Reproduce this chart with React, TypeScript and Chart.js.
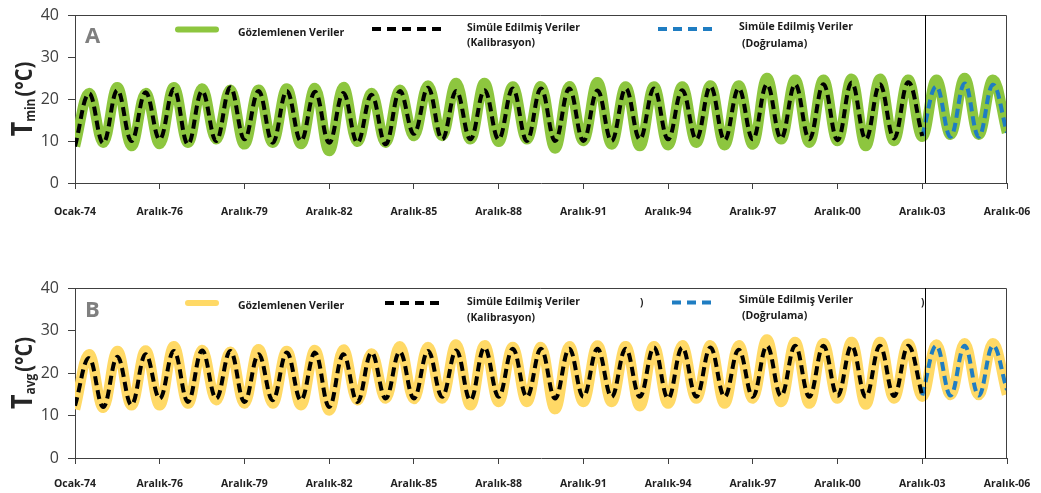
import React, { useEffect, useRef } from "react";
import { Chart, registerables } from "chart.js";

Chart.register(...registerables);

// ---------- DATA ----------
const tickLabels = [
  "Ocak-74", "Aralık-76", "Aralık-79", "Aralık-82", "Aralık-85", "Aralık-88",
  "Aralık-91", "Aralık-94", "Aralık-97", "Aralık-00", "Aralık-03", "Aralık-06",
];
const monthsPerTick = 36;
const totalMonths = 396;
const calibEndYear = 30; // index of the yearly trough where validation starts
const splitMonth = 361; // calibration / validation boundary

// Panel A: Tmin — yearly troughs (winter) and peaks (summer)
const tminObsTroughs = [8.8, 9.6, 8.8, 9.3, 9.6, 10.4, 9.2, 9.6, 9.3, 7.6, 9.8, 9.6,
  11.2, 11.2, 10.4, 9.8, 10.4, 8.2, 10.0, 9.2, 8.8, 9.0, 9.6, 9.0,
  9.2, 10.4, 9.6, 10.0, 8.8, 10.0, 11.0, 11.5, 11.5, 12.0];
const tminObsPeaks = [21.4, 22.8, 21.4, 22.8, 22.5, 22.2, 22.2, 22.5, 22.6, 22.8, 21.4,
  22.2, 23.2, 23.8, 23.8, 23.0, 23.0, 23.0, 24.0, 23.0, 23.0, 23.0,
  23.2, 23.2, 25.0, 24.6, 24.6, 24.8, 24.8, 24.6, 24.6, 25.0, 24.6];
const tminSimTroughs = [8.7, 9.5, 10.0, 10.4, 9.2, 10.0, 10.4, 9.6, 10.0, 9.6, 9.6, 9.2,
  11.7, 10.4, 10.4, 10.4, 10.0, 10.0, 10.0, 10.0, 10.4, 10.4, 10.4, 10.2,
  10.4, 10.6, 10.4, 10.2, 10.4, 10.6, 11.2, 11.0, 11.0, 12.0];
const tminSimPeaks = [21.3, 22.1, 21.6, 22.4, 21.9, 22.8, 21.9, 21.9, 21.7, 21.4, 21.0,
  21.9, 22.7, 21.9, 22.1, 22.5, 22.5, 22.5, 22.0, 22.5, 22.5, 22.1,
  23.0, 22.5, 23.5, 23.5, 23.5, 23.9, 23.5, 24.0, 23.0, 23.7, 23.4];

// Panel B: Tavg
const tavgObsTroughs = [11.5, 11.8, 12.4, 12.4, 12.8, 13.6, 12.8, 12.8, 12.4, 11.2, 13.6, 14.0,
  13.9, 14.0, 12.4, 13.2, 13.2, 11.5, 13.2, 13.2, 12.2, 12.8, 14.0, 12.8,
  14.0, 13.2, 12.8, 14.0, 12.6, 14.0, 14.4, 14.8, 14.8, 15.0];
const tavgObsPeaks = [24.4, 25.2, 25.3, 26.3, 25.4, 25.0, 25.6, 25.2, 25.4, 25.5, 24.6,
  26.3, 26.1, 26.7, 26.5, 26.1, 26.1, 26.3, 26.5, 26.3, 26.3, 26.5,
  26.5, 26.5, 27.9, 27.3, 27.0, 27.3, 27.3, 26.9, 26.7, 27.0, 27.0];
const tavgSimTroughs = [12.3, 12.0, 12.5, 14.0, 13.2, 14.0, 13.2, 13.6, 13.6, 12.0, 13.2, 14.0,
  14.0, 14.4, 13.6, 14.4, 14.4, 14.0, 14.4, 14.4, 14.4, 14.0, 14.4, 14.4,
  14.4, 14.6, 14.4, 14.6, 14.4, 14.6, 14.7, 14.7, 14.7, 16.0];
const tavgSimPeaks = [23.5, 23.8, 24.4, 25.2, 25.3, 25.2, 24.4, 24.8, 24.8, 24.4, 24.8,
  25.0, 25.2, 25.3, 26.0, 25.7, 25.7, 25.7, 25.7, 25.7, 26.0, 26.0,
  26.0, 25.5, 26.4, 26.4, 26.4, 26.4, 26.4, 26.4, 26.4, 26.4, 26.4];

const legendObs = "Gözlemlenen Veriler";
const legendSim = "Simüle Edilmiş Veriler";
const legendCal = "(Kalibrasyon)";
const legendVal = "(Doğrulama)";

// ---------- STYLE ----------
const FONT = '"Open Sans", "DejaVu Sans", sans-serif';
const AXIS = "#404040";
const BLUE = "#1f7dc2";
const GREEN = "#8dc63f";
const YELLOW = "#ffd966";

function wave(troughs: number[], peaks: number[], from: number, to: number) {
  const pts: { x: number; y: number }[] = [];
  for (let k = from; k <= to; k++) {
    pts.push({ x: k * 12, y: troughs[k] });
    if (k < to && k < peaks.length) pts.push({ x: k * 12 + 6, y: peaks[k] });
  }
  return pts;
}

type Panel = {
  letter: string;
  sub: string;
  obsColor: string;
  obsT: number[]; obsP: number[]; simT: number[]; simP: number[];
  height: number; top: number; xAxisH: number; xPad: number;
  L: any;
};

function drawText(ctx: CanvasRenderingContext2D, s: string, x: number, y: number, font: string, color: string, maxW?: number) {
  ctx.font = font;
  ctx.fillStyle = color;
  ctx.textAlign = "left";
  ctx.textBaseline = "middle";
  if (maxW) ctx.fillText(s, x, y, maxW);
  else ctx.fillText(s, x, y);
}

function drawLegendLine(ctx: CanvasRenderingContext2D, x1: number, x2: number, y: number, color: string, w: number, dash: number[]) {
  ctx.save();
  ctx.strokeStyle = color;
  ctx.lineWidth = w;
  ctx.setLineDash(dash);
  ctx.lineCap = dash.length ? "butt" : "round";
  ctx.beginPath();
  ctx.moveTo(x1, y);
  ctx.lineTo(x2, y);
  ctx.stroke();
  ctx.restore();
}

const decor = (p: Panel) => ({
  id: "decor" + p.letter,
  afterDraw(chart: any) {
    const { ctx, chartArea: a } = chart;
    const xs = chart.scales.x;
    const L = p.L;
    ctx.save();
    // frame (top + right)
    ctx.lineWidth = 1;
    ctx.strokeStyle = AXIS;
    ctx.beginPath();
    ctx.moveTo(a.left, a.top + 0.5);
    ctx.lineTo(a.right - 0.5, a.top + 0.5);
    ctx.lineTo(a.right - 0.5, a.bottom);
    ctx.stroke();
    // calibration / validation separator
    const sx = Math.round(xs.getPixelForValue(splitMonth)) + 0.5;
    ctx.strokeStyle = "#000";
    ctx.beginPath();
    ctx.moveTo(sx, a.top);
    ctx.lineTo(sx, a.bottom);
    ctx.stroke();

    // panel letter
    ctx.font = `bold 22px ${FONT}`;
    ctx.fillStyle = "#7f7f7f";
    ctx.textBaseline = "alphabetic";
    ctx.textAlign = "left";
    ctx.fillText(p.letter, 85, L.letterY);

    // legend
    const lf = `bold 10.5px ${FONT}`;
    const tc = "#1a1a1a";
    drawLegendLine(ctx, L.obs[0], L.obs[1], L.obs[2], p.obsColor, 6, []);
    drawText(ctx, legendObs, 238, L.obsTextY, lf, tc, 107);
    drawLegendLine(ctx, L.sim[0], L.sim[1], L.sim[2], "#000", 4, [9, 6]);
    drawText(ctx, legendSim, 467, L.simTextY[0], lf, tc, 113);
    drawText(ctx, legendCal, 467, L.simTextY[1], lf, tc, 68);
    drawLegendLine(ctx, L.val[0], L.val[1], L.val[2], BLUE, 4, [9, 6]);
    drawText(ctx, legendSim, 739, L.valTextY[0], lf, tc, 114);
    drawText(ctx, legendVal, 742, L.valTextY[1], lf, tc, 66);
    for (const b of L.brackets) drawText(ctx, ")", b[0], b[1], `bold 10px ${FONT}`, tc);

    // y-axis title, rotated, with subscript
    const cy = (a.top + a.bottom) / 2;
    ctx.translate(32, cy);
    ctx.rotate(-Math.PI / 2);
    ctx.scale(1, 1.15);
    ctx.textBaseline = "alphabetic";
    ctx.fillStyle = "#262626";
    const fT = `bold 25px ${FONT}`;
    const fS = `bold 12px ${FONT}`;
    const fU = `bold 20px ${FONT}`;
    ctx.font = fT; const wT = ctx.measureText("T").width;
    ctx.font = fS; const wS = ctx.measureText(p.sub).width;
    ctx.font = fU; const wU = ctx.measureText("(°C)").width;
    const gap = 2;
    const total = wT + wS + gap + wU;
    let x0 = -total / 2;
    ctx.font = fT; ctx.fillText("T", x0, 0); x0 += wT;
    ctx.font = fS; ctx.fillText(p.sub, x0, 3); x0 += wS + gap;
    ctx.font = fU; ctx.fillText("(°C)", x0, 0);
    ctx.restore();
  },
});

function makeChart(canvas: HTMLCanvasElement, p: Panel) {
  const last = p.obsT.length - 1;
  return new Chart(canvas, {
    type: "line",
    data: {
      datasets: [
        {
          data: wave(p.simT, p.simP, 0, calibEndYear),
          borderColor: "#000", borderWidth: 4, borderDash: [9, 5], order: 1,
        },
        {
          data: wave(p.simT, p.simP, calibEndYear, p.simT.length - 1),
          borderColor: BLUE, borderWidth: 4, borderDash: [9, 5], order: 1,
        },
        {
          data: wave(p.obsT, p.obsP, 0, last),
          borderColor: p.obsColor, borderWidth: 10.5, order: 2,
        },
      ] as any,
    },
    options: {
      responsive: false,
      animation: false,
      devicePixelRatio: 1,
      layout: { padding: { left: 0, right: 34, top: p.top, bottom: 0 } },
      plugins: { legend: { display: false }, tooltip: { enabled: false } },
      elements: {
        point: { radius: 0 },
        line: { tension: 0.4, borderJoinStyle: "round", fill: false },
      },
      scales: {
        x: {
          type: "linear",
          min: 0,
          max: totalMonths,
          afterBuildTicks: (s: any) => {
            s.ticks = tickLabels.map((_, i) => ({ value: i * monthsPerTick }));
          },
          afterFit: (s: any) => {
            s.height = p.xAxisH;
            s.paddingLeft = 0;
            s.paddingRight = 0;
          },
          ticks: {
            autoSkip: false,
            maxRotation: 0,
            minRotation: 0,
            padding: p.xPad,
            color: "#1f1f1f",
            font: { family: FONT, size: 10.5, weight: "bold" },
            callback: (v: any) => tickLabels[Math.round(Number(v) / monthsPerTick)],
          },
          grid: { drawOnChartArea: false, drawTicks: true, tickLength: 6, color: AXIS },
          border: { color: AXIS, width: 1 },
        },
        y: {
          min: 0,
          max: 40,
          afterFit: (s: any) => {
            s.width = 75;
            s.paddingTop = 0;
            s.paddingBottom = 0;
          },
          ticks: {
            stepSize: 10,
            padding: 9,
            color: "#3f3f3f",
            font: { family: FONT, size: 16 },
          },
          grid: { drawOnChartArea: false, drawTicks: true, tickLength: 7, color: AXIS },
          border: { color: AXIS, width: 1 },
        },
      },
    } as any,
    plugins: [decor(p)],
  });
}

const panelA: Panel = {
  letter: "A", sub: "min", obsColor: GREEN,
  obsT: tminObsTroughs, obsP: tminObsPeaks, simT: tminSimTroughs, simP: tminSimPeaks,
  height: 246, top: 15, xAxisH: 246 - 183, xPad: 17,
  L: {
    letterY: 43,
    obs: [178, 216, 29.5], obsTextY: 33,
    sim: [372, 443, 29], simTextY: [28, 43],
    val: [658, 717, 29], valTextY: [27.5, 44],
    brackets: [],
  },
};

const panelB: Panel = {
  letter: "B", sub: "avg", obsColor: YELLOW,
  obsT: tavgObsTroughs, obsP: tavgObsPeaks, simT: tavgSimTroughs, simP: tavgSimPeaks,
  height: 247, top: 42, xAxisH: 247 - 212, xPad: 14,
  L: {
    letterY: 71,
    obs: [188, 216, 57], obsTextY: 60,
    sim: [385, 443, 57], simTextY: [56, 72],
    val: [672, 712, 56.5], valTextY: [54, 70],
    brackets: [[640, 57], [921, 57]],
  },
};

function PanelChart({ p }: { p: Panel }) {
  const ref = useRef<HTMLCanvasElement | null>(null);
  useEffect(() => {
    if (!ref.current) return;
    const c = makeChart(ref.current, p);
    return () => c.destroy();
  }, [p]);
  return (
    <canvas ref={ref} width={1041} height={p.height} style={{ display: "block", width: 1041, height: p.height }} />
  );
}

export default function App() {
  return (
    <div style={{ width: 1041, height: 493, background: "#fff", overflow: "hidden" }}>
      <style>{`body{margin:0;background:#fff}`}</style>
      <PanelChart p={panelA} />
      <PanelChart p={panelB} />
    </div>
  );
}
